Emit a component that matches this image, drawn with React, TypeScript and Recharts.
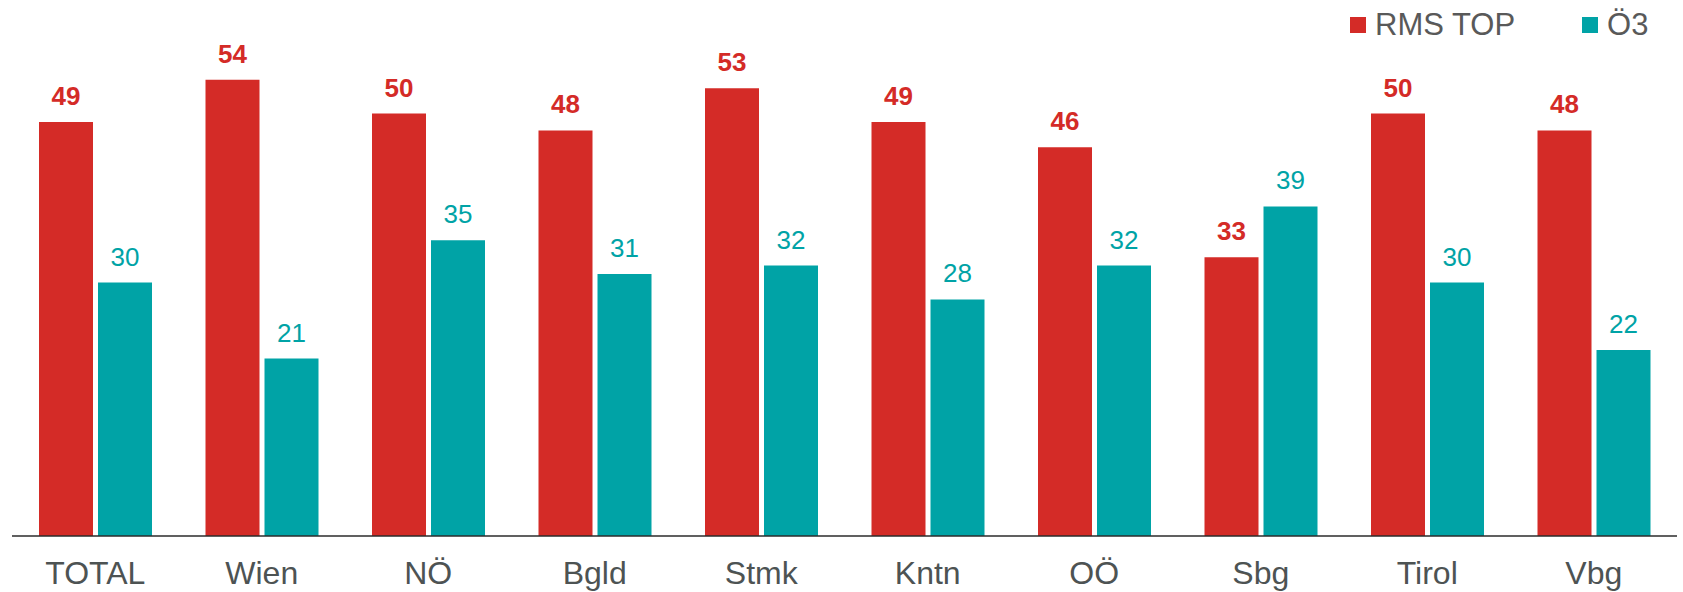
import { Bar, BarChart, LabelList, XAxis, YAxis } from "recharts";

const regions = ["TOTAL", "Wien", "NÖ", "Bgld", "Stmk", "Kntn", "OÖ", "Sbg", "Tirol", "Vbg"];
const rmsTop = [49, 54, 50, 48, 53, 49, 46, 33, 50, 48];
const oe3 = [30, 21, 35, 31, 32, 28, 32, 39, 30, 22];

const RED = "#d42b27";
const TEAL = "#00a3a6";
const FONT = "'Liberation Sans', Arial, sans-serif";

const chartData = regions.map((region, i) => ({
  region,
  rms: rmsTop[i],
  oe3: oe3[i],
}));

const legendItems = [
  { name: "RMS TOP", color: RED },
  { name: "Ö3", color: TEAL },
];

// legend drawn as plain html so it doesn't eat into the plot area
function ChartLegend() {
  return (
    <div
      style={{
        position: "absolute",
        top: 8,
        left: 1350,
        display: "flex",
        alignItems: "center",
        fontFamily: FONT,
      }}
    >
      {legendItems.map((item, i) => (
        <div
          key={item.name}
          style={{ display: "flex", alignItems: "center", marginLeft: i === 0 ? 0 : 67 }}
        >
          <span style={{ width: 16, height: 16, background: item.color, display: "inline-block" }} />
          <span style={{ marginLeft: 9, fontSize: 31, color: "#595959", lineHeight: "34px" }}>
            {item.name}
          </span>
        </div>
      ))}
    </div>
  );
}

export default function App() {
  return (
    <div style={{ position: "absolute", left: 0, top: 0, width: 1683, height: 592, background: "#fff" }}>
      <BarChart
        width={1683}
        height={592}
        data={chartData}
        margin={{ top: 29, right: 6, left: 12, bottom: 0 }}
        barCategoryGap={27}
        barGap={5}
      >
        <XAxis
          dataKey="region"
          height={56}
          tickLine={false}
          tickSize={0}
          tickMargin={25}
          axisLine={{ stroke: "#2b2b2b", strokeWidth: 1.5 }}
          tick={{ fontSize: 32, fill: "#4d5353", fontFamily: FONT }}
          interval={0}
        />
        <YAxis hide domain={[0, 60]} />
        <Bar dataKey="rms" name="RMS TOP" fill={RED} isAnimationActive={false}>
          <LabelList
            dataKey="rms"
            position="top"
            offset={17}
            style={{ fontSize: 26, fontWeight: "bold", fill: RED, fontFamily: FONT }}
          />
        </Bar>
        <Bar dataKey="oe3" name="Ö3" fill={TEAL} isAnimationActive={false}>
          <LabelList
            dataKey="oe3"
            position="top"
            offset={17}
            style={{ fontSize: 26, fill: TEAL, fontFamily: FONT }}
          />
        </Bar>
      </BarChart>
      <ChartLegend />
    </div>
  );
}
